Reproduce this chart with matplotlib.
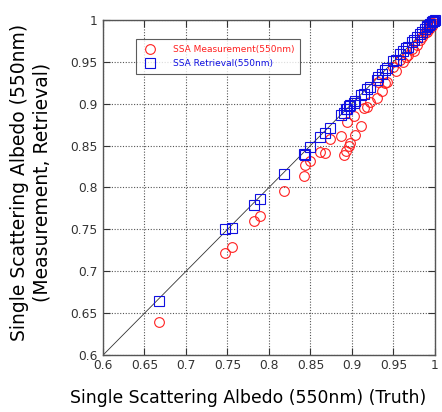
import matplotlib
matplotlib.use("Agg")
import matplotlib.pyplot as plt
import numpy as np

truth = [0.668, 0.747, 0.755, 0.7815, 0.789, 0.818, 0.842, 0.843, 0.850, 0.861,
         0.868, 0.8735, 0.887, 0.890, 0.893, 0.896, 0.898, 0.894, 0.904, 0.902,
         0.911, 0.914, 0.918, 0.922, 0.930, 0.932, 0.936, 0.940, 0.942, 0.950,
         0.953, 0.958, 0.962, 0.965, 0.968, 0.972, 0.975, 0.978, 0.982, 0.985,
         0.988, 0.991, 0.994, 0.997, 0.999, 0.996, 0.993, 0.990, 0.998, 1.000]
measurement = [0.640, 0.722, 0.729, 0.760, 0.766, 0.796, 0.814, 0.827, 0.832, 0.842,
               0.841, 0.8575, 0.8615, 0.839, 0.843, 0.849, 0.853, 0.8786, 0.8627, 0.8854,
               0.873, 0.895, 0.8965, 0.9025, 0.9065, 0.926, 0.915, 0.924, 0.926, 0.944,
               0.939, 0.952, 0.950, 0.956, 0.958, 0.965, 0.963, 0.970, 0.976, 0.979,
               0.984, 0.988, 0.992, 0.995, 0.998, 0.993, 0.989, 0.985, 0.996, 0.999]
retrieval = [0.665, 0.750, 0.752, 0.779, 0.786, 0.816, 0.840, 0.839, 0.848, 0.860,
             0.865, 0.871, 0.887, 0.889, 0.893, 0.897, 0.898, 0.893, 0.903, 0.901,
             0.910, 0.912, 0.917, 0.920, 0.928, 0.932, 0.935, 0.940, 0.942, 0.951,
             0.952, 0.959, 0.963, 0.966, 0.968, 0.973, 0.976, 0.979, 0.983, 0.986,
             0.989, 0.992, 0.995, 0.997, 0.999, 0.997, 0.994, 0.991, 0.998, 1.000]
ticks = [0.6, 0.65, 0.7, 0.75, 0.8, 0.85, 0.9, 0.95, 1.0]
tick_labels = ["0.6", "0.65", "0.7", "0.75", "0.8", "0.85", "0.9", "0.95", "1"]

fig = plt.figure(figsize=(4.42, 4.12), dpi=100)
ax = fig.add_axes([0.233, 0.138, 0.751, 0.814])

ax.plot([0.6, 1.0], [0.6, 1.0], color="#333333", lw=0.6, zorder=2)
ax.plot(truth, measurement, linestyle="none", marker="o", markersize=7,
        markerfacecolor="none", markeredgecolor="#ff2020", markeredgewidth=0.8,
        label="SSA Measurement(550nm)", zorder=3, clip_on=False)
ax.plot(truth, retrieval, linestyle="none", marker="s", markersize=7.2,
        markerfacecolor="none", markeredgecolor="#1010e0", markeredgewidth=0.8,
        label="SSA Retrieval(550nm)", zorder=4, clip_on=False)

ax.set_xlim(0.6, 1.0)
ax.set_ylim(0.6, 1.0)
ax.set_xticks(ticks)
ax.set_yticks(ticks)
ax.set_xticklabels(tick_labels)
ax.set_yticklabels(tick_labels)
ax.tick_params(direction="in", length=5, width=0.8, top=True, right=True,
               labelsize=8.8, labelcolor="#333333", color="#333333")
ax.tick_params(axis="x", pad=3)
ax.tick_params(axis="y", pad=4)
ax.grid(True, linestyle=(0, (1, 1.5)), color="#555555", linewidth=0.8)
for s in ax.spines.values():
    s.set_color("#555555")
    s.set_linewidth(1.0)

fig.text(248 / 442, (412 - 398) / 412, "Single Scattering Albedo (550nm) (Truth)",
         fontsize=12.4, ha="center", va="center")
fig.text(31 / 442, (412 - 182) / 412,
         "Single Scattering Albedo (550nm)\n(Measurement, Retrieval)",
         fontsize=13.5, ha="center", va="center", rotation=90,
         multialignment="center", linespacing=1.2)

leg = ax.legend(loc="upper left", bbox_to_anchor=(0.085, 0.955), fontsize=6.5,
                frameon=True, fancybox=False, edgecolor="#333333",
                borderpad=0.6, handletextpad=1.5, labelspacing=0.6)
leg.get_frame().set_linewidth(0.8)
leg.texts[0].set_color("#ff2020")
leg.texts[1].set_color("#1010e0")

fig.savefig("out.png", dpi=100)
